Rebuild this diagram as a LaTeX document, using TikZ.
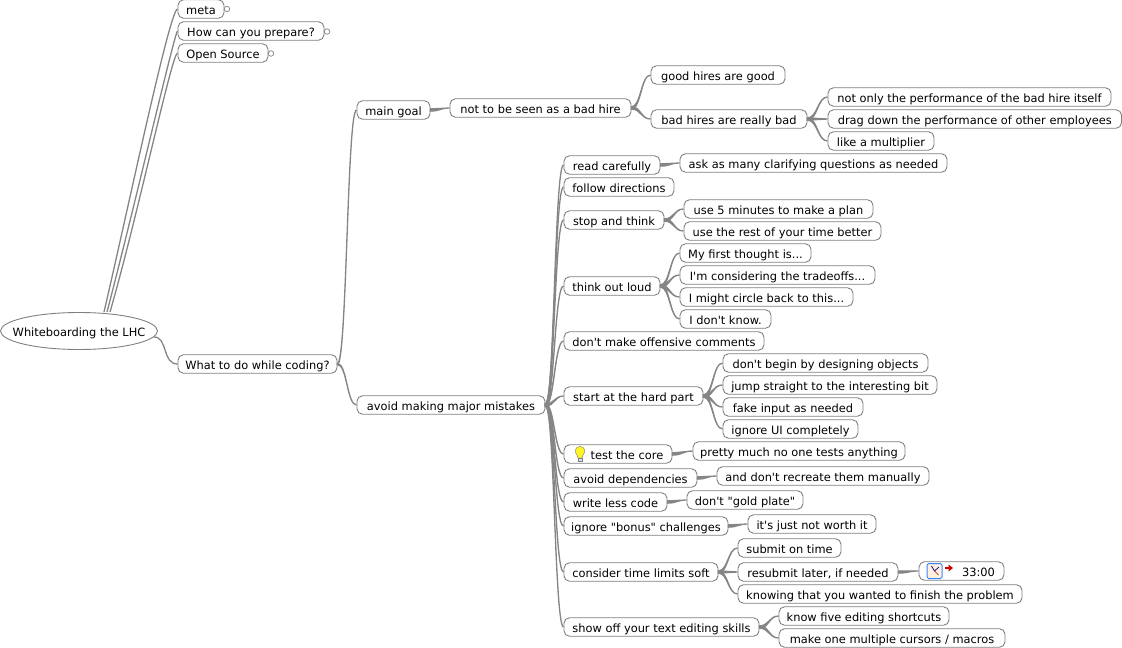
\documentclass[tikz,border=0pt]{standalone}
\usepackage{fontspec}
\newfontfamily\mapfont{DejaVu Sans}
\usetikzlibrary{calc,shapes.geometric}
\definecolor{linkc}{HTML}{858585}
\definecolor{boxc}{HTML}{808080}
\tikzset{
  x=1pt,y=-1pt,
  mapbox/.style={draw=boxc,line width=0.9pt,fill=white,rounded corners=5.5pt,minimum height=18.5pt,inner sep=0pt,text=black,text height=10.5pt,text depth=0.5pt,font=\mapfont\fontsize{11.4}{13}\selectfont},
  rootbox/.style={draw=boxc,line width=0.9pt,fill=white,ellipse,inner sep=0pt,minimum width=157pt,minimum height=37pt,text height=10.5pt,text depth=0.5pt,font=\mapfont\fontsize{11.4}{13}\selectfont},
  foldmark/.style={draw=boxc,line width=0.7pt,fill=white,circle,inner sep=0pt,minimum size=5.5pt},
  linkfill/.style={fill=linkc,draw=linkc,line width=1.3pt},
  rootlink/.style={draw=linkc,line width=1.3pt}
}
\newcommand\bx[5]{%
  \pgfmathsetmacro\bxc{(#2+#3)/2}\pgfmathsetmacro\bxw{#3-#2}%
  \node[mapbox,minimum width=\bxw pt] (#1) at (\bxc,#4) {#5};}
\newcommand\conn[3][1.1]{%
  \fill[linkfill] let \p1=(#2.east),\p2=(#3.west),\n1={(\x2-\x1)/2} in
   (\x1,\y1+#1pt) .. controls (\x1+\n1,\y1+#1pt) and (\x2-\n1,\y2) .. (\x2,\y2)
   .. controls (\x2-\n1,\y2) and (\x1+\n1,\y1-#1pt) .. (\x1,\y1-#1pt) -- cycle;}
\begin{document}
\begin{tikzpicture}
\useasboundingbox (0,0) rectangle (1122,648);
\coordinate (ra) at (104,312);
\coordinate (rb) at (107,312);
\coordinate (rc) at (110,312);
\coordinate (rd) at (154,337);
\bx{meta}{178}{224}{9}{meta}
\bx{prep}{178}{324}{31}{How can you prepare?}
\bx{oss}{178}{268}{53}{Open Source}
\node[rootbox] (root) at (79,331) {\makebox[0pt]{Whiteboarding the LHC}};
\bx{what}{178}{337}{364}{What to do while coding?}
\bx{goal}{357}{430}{110}{main goal}
\bx{seen}{450}{631}{108}{not to be seen as a bad hire}
\bx{good}{651}{785}{75}{good hires are good}
\bx{bad}{651}{807}{119}{bad hires are really bad}
\bx{perf}{828}{1111}{97}{not only the performance of the bad hire itself}
\bx{drag}{828}{1121.5}{119}{drag down the performance of other employees}
\bx{mult}{828}{934}{141}{like a multiplier}
\bx{avoid}{357}{545}{405}{avoid making major mistakes}
\bx{read}{564}{660}{165}{read carefully}
\bx{ask}{680}{947}{163}{ask as many clarifying questions as needed}
\bx{follow}{564}{674}{187}{follow directions}
\bx{stop}{564}{664}{220}{stop and think}
\bx{plan}{684}{873}{209}{use 5 minutes to make a plan}
\bx{rest}{684}{881}{231}{use the rest of your time better}
\bx{loud}{564}{660}{286}{think out loud}
\bx{first}{680}{811}{253}{My first thought is...}
\bx{trade}{680}{875}{275}{I'm considering the tradeoffs...}
\bx{circle}{680}{853}{297}{I might circle back to this...}
\bx{know}{680}{771}{319}{I don't know.}
\bx{offend}{564}{764}{341}{don't make offensive comments}
\bx{hard}{564}{703}{396}{start at the hard part}
\bx{objs}{723}{928}{363}{don't begin by designing objects}
\bx{jump}{723}{937}{385}{jump straight to the interesting bit}
\bx{fake}{723}{863}{407}{fake input as needed}
\bx{ui}{723}{858}{429}{ignore UI completely}
\bx{core}{564}{672}{454}{\hspace*{18pt}test the core}
\bx{tests}{693}{905}{451}{pretty much no one tests anything}
\bx{deps}{564}{697}{478}{avoid dependencies}
\bx{manual}{717}{929}{476}{and don't recreate them manually}
\bx{less}{564}{667}{502}{write less code}
\bx{gold}{687}{803}{500}{don't "gold plate"}
\bx{bonus}{564}{728}{526}{ignore "bonus" challenges}
\bx{worth}{748}{876}{524}{it's just not worth it}
\bx{soft}{564}{718}{572}{consider time limits soft}
\bx{ontime}{738}{841}{548}{submit on time}
\bx{later}{738}{898}{572}{resubmit later, if needed}
\bx{clock}{919}{1004}{571}{\hspace*{34pt}33:00}
\bx{finish}{738}{1022}{594}{knowing that you wanted to finish the problem}
\bx{skills}{564}{759}{627}{show off your text editing skills}
\bx{short}{779}{949}{616}{know five editing shortcuts}
\bx{macros}{779}{1005}{638}{make one multiple cursors / macros}
\node[foldmark] (fa) at (227,9) {};
\node[foldmark] (fb) at (327,31.5) {};
\node[foldmark] (fc) at (271,53.5) {};
% root links
\draw[rootlink] (ra) .. controls (130,200) and (170,9) .. (meta.west);
\draw[rootlink] (rb) .. controls (135,205) and (175,31) .. (prep.west);
\draw[rootlink] (rc) .. controls (138,215) and (172,53) .. (oss.west);
\draw[rootlink] (rd) .. controls (168,337) and (162,364) .. (what.west);
\foreach \a/\b in {what/goal,what/avoid}{\conn[0.5]{\a}{\b}}
\conn{goal}{seen}
\foreach \a/\b in {seen/good,seen/bad,bad/perf,bad/drag,bad/mult,
  read/ask,stop/plan,stop/rest,loud/first,loud/trade,loud/circle,loud/know,
  hard/objs,hard/jump,hard/fake,hard/ui,core/tests,deps/manual,less/gold,bonus/worth,
  soft/ontime,soft/later,soft/finish,later/clock,skills/short,skills/macros}{\conn{\a}{\b}}
\foreach \b in {read,follow,stop,loud,offend,hard,core,deps,less,bonus,soft,skills}{\conn[1.1]{avoid}{\b}}
% redraw box outlines over link ends is not needed: links stop at the box edges
% bulb icon
\fill[yellow!85!white,draw=gray!70!olive,line width=0.5pt] (580,446.5) .. controls (575,446.5) and (574,452) .. (577,455) -- (578,458) -- (582,458) -- (583,455) .. controls (586,452) and (585,446.5) .. (580,446.5) -- cycle;
\fill[white!75!gray,draw=gray,line width=0.4pt] (578,458) rectangle (582,461.5);
% clock icon
\draw[draw=blue!60!cyan!80,fill=orange!12,line width=1pt,rounded corners=1.5pt] (927,563.5) rectangle (942,578.5);
\draw[red!70!black,line width=0.7pt] (934.5,571) -- (938.5,575);
\draw[blue!50!black,line width=0.7pt] (934.5,571) -- (931.5,566) (934.5,571) -- (939,567);
\draw[red!80!black,line width=1.6pt] (944.5,568) -- (951,568);
\fill[red!80!black] (948.5,564.5) -- (953,568) -- (948.5,571.5) -- cycle;
\end{tikzpicture}
\end{document}
